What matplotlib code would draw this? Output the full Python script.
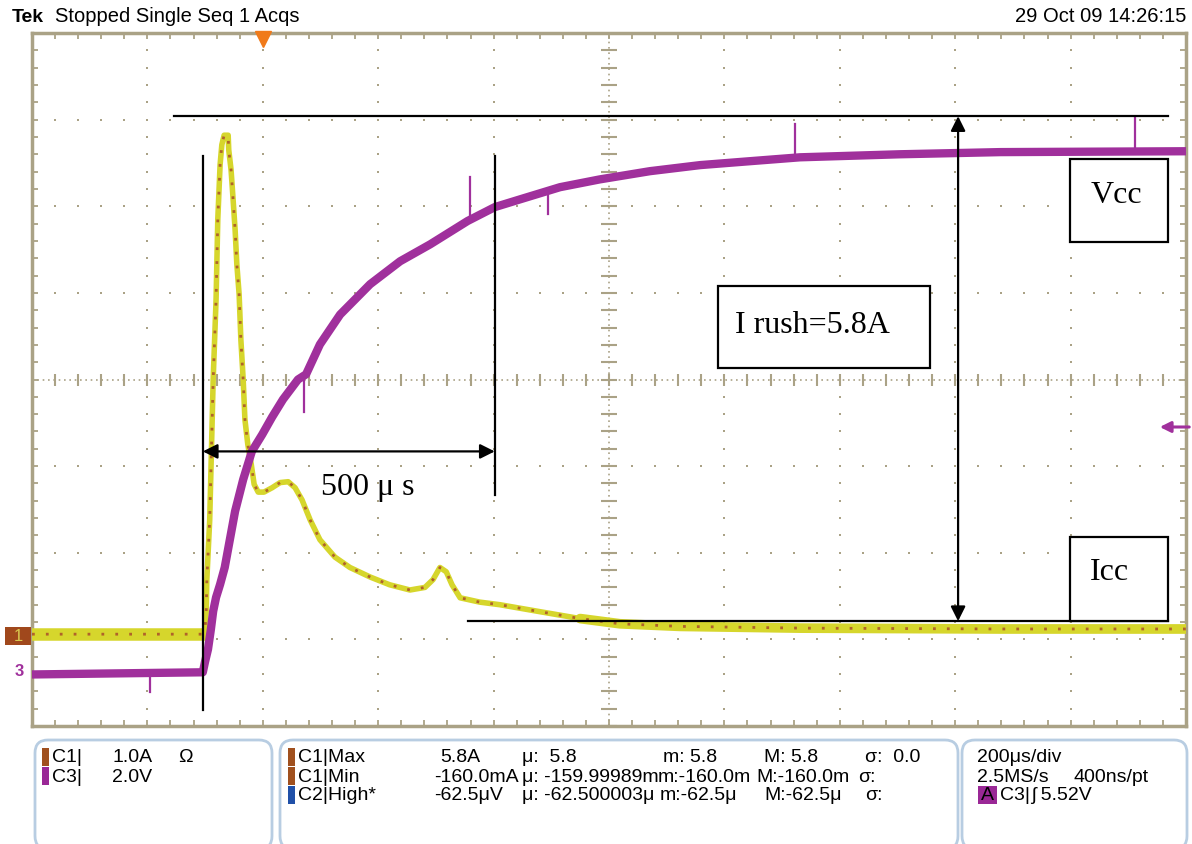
import numpy as np
import matplotlib.pyplot as plt
from matplotlib.patches import Rectangle, FancyBboxPatch, FancyArrowPatch

W, H = 1192, 845
GRID = '#aaa286'
YELLOW = '#d6d62c'
BROWN = '#b0622a'
PURPLE = '#a0309c'
BOXEDGE = '#b8cde2'

# C1 current (A), 1.0 A/div, time in us relative to trigger
t_c1 = [-400, -104, -100, -98, -97, -92, -86, -81, -78, -74, -71, -67, -60, -59, -55, -52, -48, -45,
        -41, -38, -34, -31, -26, -20, -15, -8, 2, 16, 30, 44, 56, 68, 82, 99, 125, 151, 186, 220,
        255, 281, 295, 307, 318, 328, 342, 376, 411, 480, 550, 619, 723, 931, 1278, 1600]
i_c1 = [0.03, 0.03, 0.10, 0.31, 0.66, 1.35, 2.97, 3.89, 4.82, 5.45, 5.68, 5.79, 5.79, 5.62, 5.39,
        5.10, 4.70, 4.30, 3.95, 3.43, 2.97, 2.51, 2.22, 1.99, 1.76, 1.67, 1.67, 1.72, 1.78, 1.79,
        1.72, 1.58, 1.35, 1.12, 0.92, 0.80, 0.69, 0.60, 0.54, 0.57, 0.66, 0.80, 0.75, 0.60, 0.45,
        0.40, 0.37, 0.29, 0.21, 0.15, 0.12, 0.10, 0.09, 0.09]

# C3 voltage (V), 2.0 V/div
t_c3 = [-400, -104, -100, -95, -90, -86, -81, -74, -66, -57, -48, -34, -19, -1, 16, 35, 61, 75,
        99, 134, 186, 238, 290, 355, 402, 446, 515, 584, 671, 758, 844, 931, 1104, 1278, 1600]
v_c3 = [-0.07, -0.02, 0.23, 0.51, 0.97, 1.39, 1.71, 2.01, 2.40, 3.05, 3.70, 4.43, 5.08, 5.47,
        5.87, 6.28, 6.74, 6.86, 7.55, 8.24, 8.94, 9.47, 9.86, 10.40, 10.72, 10.90, 11.18, 11.36,
        11.55, 11.69, 11.78, 11.87, 11.94, 11.99, 12.01]
# single-sample glitches on C3
spike_t = [-195, 71, 359, 494, 922, 1512]
spike_v = [-0.48, 6.00, 11.41, 10.55, 12.63, 12.79]

C1_SCALE, C1_OFF = 1.0, -2.97
C3_SCALE, C3_OFF = 2.0, -3.37

plt.rcParams['font.family'] = ['Liberation Sans', 'DejaVu Sans']

fig = plt.figure(figsize=(W / 100, H / 100), dpi=100)


def P(x, y):
    return x / W, 1 - y / H


ax = fig.add_axes([32 / W, 1 - 727 / H, 1154 / W, 693 / H])
ax.set_xlim(-400, 1600)
ax.set_ylim(-4, 4)

# graticule
minor_t = np.arange(-400, 1601, 40)
minor_d = np.arange(-4, 4.01, 0.2)
for t in range(-200, 1600, 200):
    if t == 600:
        continue
    ax.plot(np.full_like(minor_d, t), minor_d, ls='none', marker='s', ms=1.8, mew=0, color=GRID)
for d in [-3, -2, -1, 1, 2, 3]:
    ax.plot(minor_t, np.full(len(minor_t), d), ls='none', marker='s', ms=1.8, mew=0, color=GRID)
ax.axvline(600, color=GRID, lw=1.2, ls=(0, (1, 2.2)))
ax.axhline(0, color=GRID, lw=1.2, ls=(0, (1, 2.2)))
ax.plot(np.full_like(minor_d, 600), minor_d, ls='none', marker='_', ms=11, mew=1.5, color=GRID)
ax.plot(minor_t, np.zeros(len(minor_t)), ls='none', marker='|', ms=9, mew=1.5, color=GRID)

ax.set_xticks(minor_t)
ax.set_yticks(minor_d)
ax.tick_params(direction='in', length=4, width=1.3, color=GRID, top=True, right=True,
               labelbottom=False, labelleft=False)
for s in ax.spines.values():
    s.set_color(GRID)
    s.set_linewidth(2.5)

# traces
y1 = np.array(i_c1) / C1_SCALE + C1_OFF
y3 = np.array(v_c3) / C3_SCALE + C3_OFF
t1 = np.array(t_c1)
ax.plot(t1, y1, color=YELLOW, lw=4, zorder=3)
ax.plot(np.where(t1 <= -104, t1, np.nan), y1, color=YELLOW, lw=9, zorder=3)
ax.plot(np.where(t1 >= 550, t1, np.nan), y1, color=YELLOW, lw=7, zorder=3,
        solid_capstyle='round')
ax.plot(t1, y1, color=BROWN, lw=2, ls=(0, (1, 4)), zorder=3)
ax.plot(t_c3, y3, color=PURPLE, lw=6, zorder=4)
for ts, vs in zip(spike_t, spike_v):
    base = np.interp(ts, t_c3, y3)
    ax.plot([ts, ts], [base, vs / C3_SCALE + C3_OFF], color=PURPLE, lw=1.6, zorder=4)

# annotations
k = dict(color='black', lw=1.6, zorder=6, clip_on=False)
ax.plot([-154, 1569], [3.04, 3.04], **k)
ax.plot([-104, -104], [2.575, -3.81], **k)
ax.plot([402, 402], [2.575, -1.33], **k)
ax.plot([356, 1569], [-2.79, -2.79], **k)
arr = dict(arrowstyle='<|-|>', color='black', lw=1.6, mutation_scale=22, shrinkA=0, shrinkB=0)
ax.annotate('', xy=(402, -0.83), xytext=(-104, -0.83), arrowprops=arr, zorder=6)
ax.annotate('', xy=(1205, 3.04), xytext=(1205, -2.79), arrowprops=arr, zorder=6)
serif = dict(family='Liberation Serif', fontsize=23, color='black', zorder=7)
ax.text(182, -1.24, '500 μ s', ha='center', va='center', **serif)
for (x0, x1, d0, d1, label, tx, ty) in [(1399, 1569, 1.59, 2.54, 'Vcc', 1434, 2.14),
                                         (789, 1156, 0.127, 1.085, 'I rush=5.8A', 818, 0.635),
                                         (1399, 1569, -2.79, -1.82, 'Icc', 1434, -2.22)]:
    ax.add_patch(Rectangle((x0, d0), x1 - x0, d1 - d0, fill=True, fc='white', ec='black',
                           lw=1.6, zorder=6))
    ax.text(tx, ty, label, ha='left', va='center', **serif)

# trigger marker and channel markers
ax.plot([0], [3.93], marker='v', ms=11, color='#f07a1a', clip_on=False, zorder=8)
fig.patches.append(Rectangle(P(5, 646), 26 / W, 18 / H, transform=fig.transFigure,
                             fc='#a0481c', ec='none'))
fig.text(*P(18, 637), '1', ha='center', va='center', fontsize=12, color='#d8c850')
fig.text(*P(19, 672), '3', ha='center', va='center', fontsize=12, color=PURPLE,
         fontweight='bold')
fig.add_artist(FancyArrowPatch(P(1192, 428), P(1157, 428), transform=fig.transFigure,
                               arrowstyle='-|>', mutation_scale=16, color=PURPLE, lw=2.2))

# header
fig.text(*P(12, 17), 'Tek', fontsize=14, fontweight='bold', va='center', ha='left')
fig.text(*P(55, 17), 'Stopped Single Seq 1 Acqs', fontsize=14.5, va='center', ha='left')
fig.text(*P(1186, 17), '29 Oct 09 14:26:15', fontsize=14.5, va='center', ha='right')

# bottom info panels
for x0, x1 in [(35, 272), (280, 958), (962, 1187)]:
    fig.patches.append(FancyBboxPatch((x0 / 100, (H - 850) / 100), (x1 - x0) / 100, 1.09,
                                      boxstyle='round,pad=0,rounding_size=0.13',
                                      transform=fig.dpi_scale_trans, fc='white', ec=BOXEDGE,
                                      lw=2))

rows = [758, 777, 796]
fs = 14


def chip(x, y, c, w=7):
    fig.patches.append(Rectangle(P(x, y + 9), w / W, 18 / H, transform=fig.transFigure,
                                 fc=c, ec='none'))


def txt(x, y, s):
    fig.text(*P(x, y), s, fontsize=fs, va='center', ha='left')


chip(42, rows[0], '#a0501e')
txt(52, rows[0], 'C1|')
txt(112, rows[0], '1.0A')
txt(178, rows[0], 'Ω')
chip(42, rows[1], '#9a2896')
txt(52, rows[1], 'C3|')
txt(112, rows[1], '2.0V')

chip(288, rows[0], '#a0501e')
chip(288, rows[1], '#a0501e')
chip(288, rows[2], '#2050a8')
txt(298, rows[0], 'C1|Max')
txt(298, rows[1], 'C1|Min')
txt(298, rows[2], 'C2|High*')
txt(440, rows[0], '5.8A')
txt(434, rows[1], '-160.0mA')
txt(434, rows[2], '-62.5μV')
txt(522, rows[0], 'μ:  5.8')
txt(522, rows[1], 'μ: -159.99989m')
txt(522, rows[2], 'μ: -62.500003μ')
txt(663, rows[0], 'm: 5.8')
txt(658, rows[1], 'm:-160.0m')
txt(660, rows[2], 'm:-62.5μ')
txt(764, rows[0], 'M: 5.8')
txt(756, rows[1], 'M:-160.0m')
txt(764, rows[2], 'M:-62.5μ')
txt(865, rows[0], 'σ:  0.0')
txt(858, rows[1], 'σ:')
txt(865, rows[2], 'σ:')

txt(977, rows[0], '200μs/div')
txt(977, rows[1], '2.5MS/s')
txt(1074, rows[1], '400ns/pt')
chip(978, rows[2], '#9a2896', w=19)
fig.text(*P(987.5, rows[2]), 'A', fontsize=fs, va='center', ha='center', color='black')
txt(1000, rows[2], 'C3|')
txt(1031, rows[2], 'ʃ 5.52V')

fig.savefig('out.png', dpi=100)
